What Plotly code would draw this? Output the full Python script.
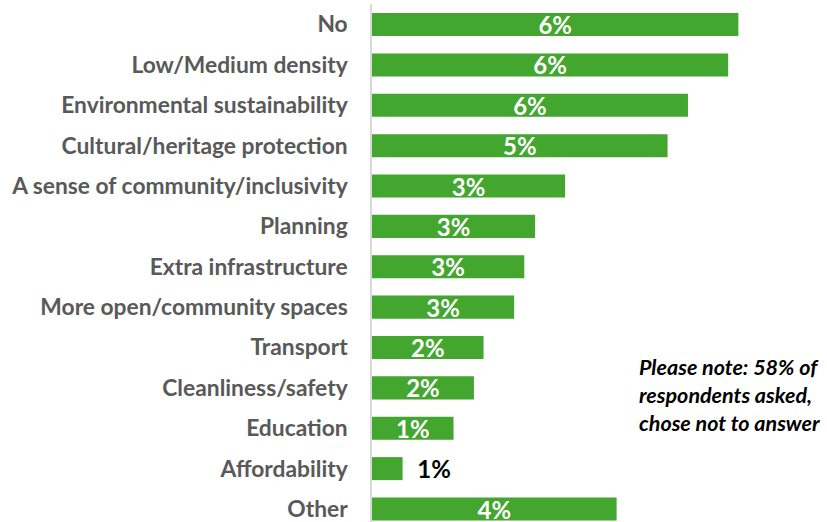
import plotly.graph_objects as go

categories = ["No", "Low/Medium density", "Environmental sustainability",
              "Cultural/heritage protection", "A sense of community/inclusivity",
              "Planning", "Extra infrastructure", "More open/community spaces",
              "Transport", "Cleanliness/safety", "Education", "Affordability", "Other"]
values = [6.47, 6.29, 5.58, 5.22, 3.41, 2.88, 2.69, 2.51, 1.97, 1.80, 1.44, 0.54, 4.32]
value_labels = ["6%", "6%", "6%", "5%", "3%", "3%", "3%", "3%", "2%", "2%", "1%", "1%", "4%"]
note_lines = ["Please note: 58% of", "respondents asked,", "chose not to answer"]

# plot bottom-to-top
cats = categories[::-1]
vals = values[::-1]
labs = value_labels[::-1]

outside = [v < 1.0 for v in vals]
text = [("\u00a0\u00a0" + l) if o else l for l, o in zip(labs, outside)]
positions = ["outside" if o else "inside" for o in outside]
colors = ["#000000" if o else "#FFFFFF" for o in outside]

fig = go.Figure(go.Bar(
    y=cats, x=vals, orientation="h",
    marker=dict(color="#42A62F", line=dict(width=0)),
    width=0.57,
    text=text, textposition=positions, insidetextanchor="middle",
    constraintext="none",
    textfont=dict(family="Lato", size=24, color=colors, weight="bold"),
    cliponaxis=False,
))

fig.update_layout(
    width=827, height=522,
    margin=dict(l=372, r=2, t=4, b=0, autoexpand=False),
    plot_bgcolor="white", paper_bgcolor="white",
    showlegend=False,
    xaxis=dict(range=[0, 8], visible=False, showgrid=False, zeroline=False),
    yaxis=dict(range=[-0.322, 12.508], showline=True, linecolor="#D9D9D9", linewidth=1.5,
               ticks="", ticklabelstandoff=18, showgrid=False, automargin=False,
               tickfont=dict(family="Lato", size=22.8, color="#595959", weight="bold")),
    annotations=[dict(
        xref="x", yref="y", x=4.68, y=2.82, xanchor="left", yanchor="middle",
        text="<br>".join(note_lines), showarrow=False, align="left",
        font=dict(family="Lato", size=21.5, color="#000000", weight="bold", style="italic"),
    )],
)

fig.write_html("out.html", config={"displayModeBar": False},
               post_script="document.body.style.margin='0px';")
